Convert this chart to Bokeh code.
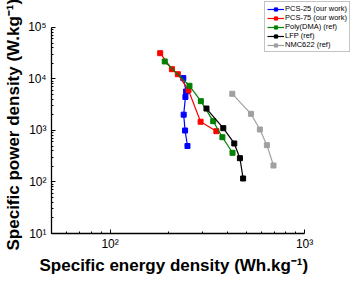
from bokeh.plotting import figure
from bokeh.models import Range1d, FixedTicker, Legend, LegendItem, Title
from bokeh.embed import file_html
from bokeh.resources import INLINE

# ---- data ----
pcs25_e = [238, 246, 244, 239, 243, 250]
pcs25_p = [10400, 5720, 4470, 2030, 1000, 500]

pcs75_e = [181, 208, 223, 253, 292, 352]
pcs75_p = [31700, 15500, 12400, 6060, 1477, 969]

polydma_e = [191, 256, 293, 339, 378, 426]
polydma_p = [21900, 7380, 3710, 1517, 741, 369]

lfp_e = [313, 382, 435, 465, 483]
lfp_p = [2670, 1110, 560, 290, 117]

nmc_e = [425, 530, 589, 640, 692]
nmc_p = [5160, 2110, 1045, 519, 209]

series_names = ["PCS-25 (our work)", "PCS-75 (our work)", "Poly(DMA) (ref)", "LFP (ref)", "NMC622 (ref)"]
series_colors = ["#0000FF", "#FF0000", "#008000", "#000000", "#A0A0A0"]

x_major = [100, 1000]
x_major_labels = ["10\u00b2", "10\u00b3"]
y_major = [10, 100, 1000, 10000, 100000]
y_major_labels = ["10\u00b9", "10\u00b2", "10\u00b3", "10\u2074", "10\u2075"]

x_title = "Specific energy density (Wh.kg\u207b\u00b9)"
y_title = "Specific power density (W.kg\u207b\u00b9)"

FONT = "Liberation Sans"

# The frame fills the top and right of the canvas so the legend is not clipped;
# the axes are bounded to the reference's visible ranges (50..1000, 10..1e5).
p = figure(
    x_axis_type="log", y_axis_type="log",
    x_range=Range1d(50, 1742), y_range=Range1d(10, 334400),
    width=351, height=281,
    min_border_left=48, min_border_right=0, min_border_top=0, min_border_bottom=48,
    output_backend="svg", toolbar_location=None,
)
p.grid.visible = False
p.outline_line_color = None
p.background_fill_color = "white"
p.border_fill_color = "white"

x_minor = [v * d for d in (10, 100) for v in range(2, 10) if 50 <= v * d <= 1000]
y_minor = [v * d for d in (10, 100, 1000, 10000) for v in range(2, 10)]

p.xaxis.ticker = FixedTicker(ticks=x_major, minor_ticks=x_minor)
p.yaxis.ticker = FixedTicker(ticks=y_major, minor_ticks=y_minor)
p.xaxis.major_label_overrides = {t: l for t, l in zip(x_major, x_major_labels)}
p.yaxis.major_label_overrides = {t: l for t, l in zip(y_major, y_major_labels)}
p.xaxis.bounds = (50, 1000)
p.yaxis.bounds = (10, 100000)

for ax in (p.xaxis, p.yaxis):
    ax.axis_line_width = 1.3
    ax.axis_line_color = "black"
    ax.major_tick_in = 4
    ax.major_tick_out = 0
    ax.minor_tick_in = 2
    ax.minor_tick_out = 0
    ax.major_tick_line_color = "black"
    ax.minor_tick_line_color = "black"
    ax.major_label_text_font = FONT
    ax.major_label_text_font_size = "12px"
    ax.major_label_text_color = "black"

p.xaxis.major_label_standoff = 3
p.yaxis.major_label_standoff = 5

xt = Title(text=x_title, align="left", offset=-12, text_font=FONT, text_font_size="17px",
           text_font_style="bold", text_color="black", standoff=0)
p.add_layout(xt, "below")

yt = Title(text=y_title, align="left", offset=-17, text_font=FONT, text_font_size="17px",
           text_font_style="bold", text_color="black", standoff=3)
p.add_layout(yt, "left")

data = [(pcs25_e, pcs25_p), (pcs75_e, pcs75_p), (polydma_e, polydma_p), (lfp_e, lfp_p), (nmc_e, nmc_p)]
items = []
for (xs, ys), name, col in zip(data, series_names, series_colors):
    ln = p.line(xs, ys, line_color=col, line_width=1.2)
    sc = p.scatter(xs, ys, marker="square", size=5, fill_color=col, line_color=col)
    items.append(LegendItem(label=name, renderers=[ln, sc]))

legend = Legend(
    items=items, location=(213, 181),
    label_text_font=FONT, label_text_font_size="7.5px", label_text_color="black",
    label_text_line_height=1.0,
    label_height=8, glyph_height=8, glyph_width=17, label_standoff=1,
    spacing=0, padding=2, margin=0,
    border_line_color="#888888", border_line_width=1,
    background_fill_alpha=1.0,
)
p.add_layout(legend, "center")

open("out.html", "w").write(file_html(p, INLINE))
